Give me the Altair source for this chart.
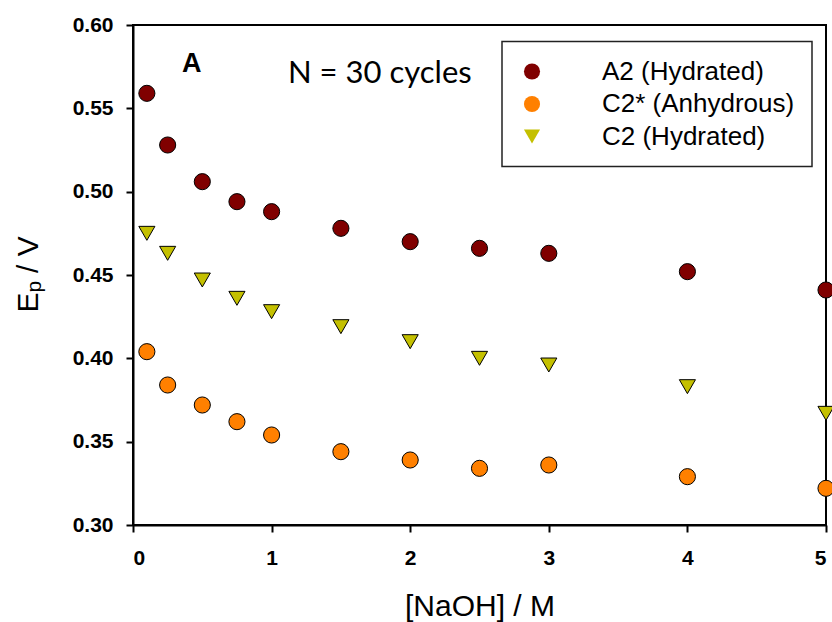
import altair as alt
import pandas as pd

# ---- data ----
naoh = [0.1, 0.25, 0.5, 0.75, 1.0, 1.5, 2.0, 2.5, 3.0, 4.0, 5.0]
a2_hydrated = [0.559, 0.528, 0.506, 0.494, 0.488, 0.478, 0.470, 0.466, 0.463, 0.452, 0.441]
c2s_anhydrous = [0.404, 0.384, 0.372, 0.362, 0.354, 0.344, 0.339, 0.334, 0.336, 0.329, 0.322]
c2_hydrated = [0.475, 0.463, 0.447, 0.436, 0.428, 0.419, 0.410, 0.400, 0.396, 0.383, 0.367]

series_names = ["A2 (Hydrated)", "C2* (Anhydrous)", "C2 (Hydrated)"]
series_colors = ["#800000", "#FF8000", "#C4C000"]
series_shapes = ["circle", "circle", "triangle-down"]

x_ticks = [0, 1, 2, 3, 4, 5]
y_ticks = [0.30, 0.35, 0.40, 0.45, 0.50, 0.55, 0.60]

rows = []
for name, vals in zip(series_names, [a2_hydrated, c2s_anhydrous, c2_hydrated]):
    for xv, yv in zip(naoh, vals):
        rows.append({"naoh": xv, "ep": yv, "series": name})
df = pd.DataFrame(rows)

FONT = "Liberation Sans, Arial, sans-serif"
W, H = 693, 500

points = alt.Chart(df).mark_point(
    filled=True, size=260, stroke="black", strokeWidth=1, opacity=1
).encode(
    x=alt.X("naoh:Q", title="[NaOH] / M",
            scale=alt.Scale(domain=[0, 5], nice=False, zero=False),
            axis=alt.Axis(values=x_ticks, format="d", labelPadding=15,
                          titleY=90, titleBaseline="alphabetic",
                          titleFontSize=30, titleFont=FONT, titleFontWeight="normal",
                          titleColor="black")),
    y=alt.Y("ep:Q", title=None,
            scale=alt.Scale(domain=[0.30, 0.60], nice=False, zero=False),
            axis=alt.Axis(values=y_ticks, format=".2f", labelPadding=13)),
    color=alt.Color("series:N", title=None,
                    scale=alt.Scale(domain=series_names, range=series_colors)),
    shape=alt.Shape("series:N", title=None,
                    scale=alt.Scale(domain=series_names, range=series_shapes)),
)

one = pd.DataFrame({"k": [0]})

def label(text, x, y, size, weight="normal", font=FONT, angle=0):
    kw = dict(text=text, fontSize=size, fontWeight=weight, font=font,
              align="left", baseline="alphabetic", color="black")
    if angle:
        kw["angle"] = angle
    return alt.Chart(one).mark_text(**kw).encode(x=alt.value(x), y=alt.value(y))

ann = [
    label("A", 49, 46.5, 27, weight="bold"),
    label("N = 30 cycles", 155, 57.5, 31, font="Lato, Open Sans, sans-serif"),
    label("E", -95, 287.5, 30, angle=270),
    label("p", -92, 267.5, 21, angle=270),
    label("/ V", -95, 248, 30, angle=270),
]

chart = alt.layer(points, *ann).properties(
    width=W, height=H,
    autosize=alt.AutoSizeParams(type="none"),
    padding={"left": 133, "top": 25, "right": 6, "bottom": 97},
    background="white",
).configure_view(
    stroke="black", strokeWidth=2
).configure_axis(
    grid=False, labelFont=FONT, labelFontSize=21, labelFontWeight="bold",
    labelColor="black", domainColor="black", domainWidth=2,
    tickColor="black", tickWidth=2, tickSize=7
).configure_legend(
    orient="none", legendX=369, legendY=16.5, padding=17,
    strokeColor="#222222", strokeWidth=1.5, fillColor="white",
    labelFont=FONT, labelFontSize=26, labelColor="black", labelOffset=57,
    labelLimit=400, rowPadding=6.5, symbolSize=260,
    symbolStrokeColor="black", symbolStrokeWidth=1, symbolOpacity=1
)

chart.save("out.html", embed_options={"renderer": "svg", "actions": False})
